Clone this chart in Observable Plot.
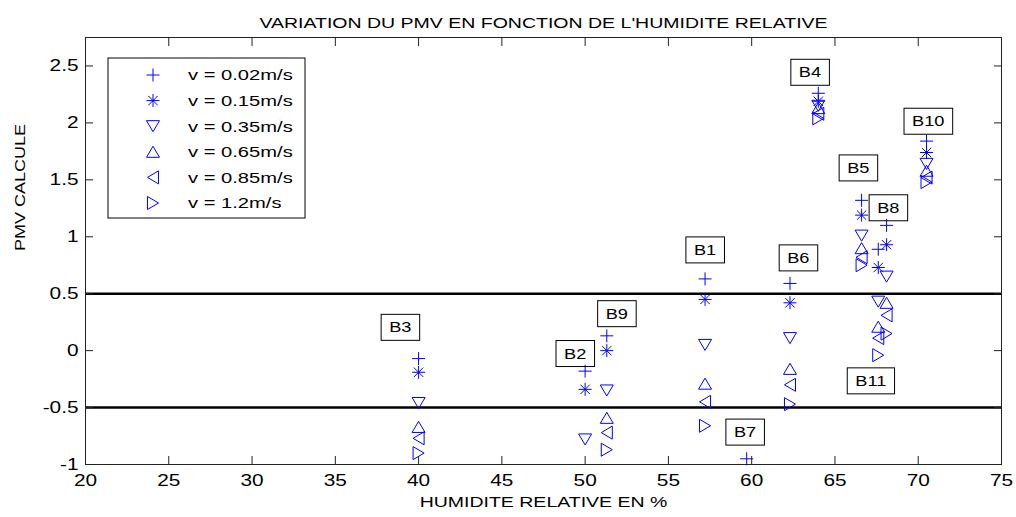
<!DOCTYPE html>
<html><head><meta charset="utf-8">
<script src="https://cdn.jsdelivr.net/npm/d3@7"></script>
<script src="https://cdn.jsdelivr.net/npm/@observablehq/plot@0.6"></script>
<style>
body{margin:0;background:#fff}
svg{font-family:"Liberation Sans",Arial,Helvetica,sans-serif}
</style>
</head><body><div id="chart"></div>
<script>
// ---- data ----
const buildings = ["B1","B2","B3","B4","B5","B6","B7","B8","B9","B10","B11"];
const humidity  = [57.2, 50.0, 40.0, 64.0, 66.6, 62.3, 59.7, 68.1, 51.3, 70.5, 67.6];
const pmv002 = [ 0.63, -0.18, -0.07, 2.26, 1.32,  0.59, -0.95, 1.10,  0.13, 1.84,  0.89];
const pmv015 = [ 0.45, -0.34, -0.19, 2.19, 1.19,  0.42,  null, 0.93,  0.00, 1.74,  0.73];
const pmv035 = [ 0.05, -0.78, -0.46, 2.15, 1.01,  0.11,  null, 0.65, -0.35, 1.64,  0.43];
const pmv065 = [-0.29,  null, -0.67, 2.13, 0.90, -0.16,  null, 0.42, -0.59, 1.58,  0.21];
const pmv085 = [-0.45,  null, -0.77, 2.08, 0.82, -0.30,  null, 0.31, -0.72, 1.52,  0.11];
const pmv120 = [-0.66,  null, -0.90, 2.04, 0.75, -0.47,  null, 0.15, -0.87, 1.48, -0.04];
const speedLabels = ["v = 0.02m/s","v = 0.15m/s","v = 0.35m/s","v = 0.65m/s","v = 0.85m/s","v = 1.2m/s"];
// annotation anchor positions (data units) for the boxed building labels
const labelX = [57.2, 49.4, 38.9, 63.5, 66.4, 62.8, 59.6, 68.2, 51.9, 70.6, 67.15];
const labelY = [0.88, -0.03, 0.20, 2.44, 1.60, 0.81, -0.72, 1.25, 0.32, 2.01, -0.27];
const comfortLimits = [0.5, -0.5];
const xTicks = [20,25,30,35,40,45,50,55,60,65,70,75];
const yTicks = [-1,-0.5,0,0.5,1,1.5,2,2.5];
const title = "VARIATION DU PMV EN FONCTION DE L'HUMIDITE RELATIVE";
const xLabel = "HUMIDITE RELATIVE EN %";
const yLabel = "PMV CALCULE";

// ---- MATLAB-like marker shapes ----
function sym(f){return {draw(c,size){const r=Math.sqrt(size/Math.PI); f(c,r);}};}
const symbols = [
  sym((c,r)=>{c.moveTo(-r,0);c.lineTo(r,0);c.moveTo(0,-r);c.lineTo(0,r);}),
  sym((c,r)=>{const d=r*0.72;c.moveTo(-r,0);c.lineTo(r,0);c.moveTo(0,-r);c.lineTo(0,r);
               c.moveTo(-d,-d);c.lineTo(d,d);c.moveTo(-d,d);c.lineTo(d,-d);}),
  sym((c,r)=>{const h=r*0.85;c.moveTo(-r,-h);c.lineTo(r,-h);c.lineTo(0,h);c.closePath();}),
  sym((c,r)=>{const h=r*0.85;c.moveTo(-r,h);c.lineTo(r,h);c.lineTo(0,-h);c.closePath();}),
  sym((c,r)=>{const h=r*0.85;c.moveTo(-h,0);c.lineTo(h,-r);c.lineTo(h,r);c.closePath();}),
  sym((c,r)=>{const h=r*0.85;c.moveTo(h,0);c.lineTo(-h,-r);c.lineTo(-h,r);c.closePath();})
];
const seriesValues = [pmv002, pmv015, pmv035, pmv065, pmv085, pmv120];
const BLUE = "#0000ff";
const R = 6.5;
const TK = 8; // inward tick length (px)

const dotMarks = seriesValues.map((vals, si) => {
  const data = buildings.map((b,i)=>({b, x: humidity[i], y: vals[i]})).filter(d=>d.y!=null);
  return Plot.dot(data, {x:"x", y:"y", symbol: symbols[si], r: R, stroke: BLUE, fill: "none", strokeWidth: 1});
});
const labelData = buildings.map((b,i)=>({b, x: labelX[i], y: labelY[i]}));
const noText = () => "";

const chart = Plot.plot({
  width: 1016, height: 517,
  marginLeft: 85, marginRight: 15, marginTop: 37, marginBottom: 53,
  x: {domain: [20, 75]},
  y: {domain: [-1, 2.75]},
  style: {fontSize: "16px", color: "black", background: "white", overflow: "visible"},
  marks: [
    Plot.ruleY(comfortLimits, {stroke: "black", strokeWidth: 2.6}),
    // inward ticks on all four sides
    Plot.axisX({anchor: "bottom", ticks: xTicks, tickSize: TK, dy: -TK, tickFormat: noText, label: null, stroke: "#222"}),
    Plot.axisX({anchor: "top", ticks: xTicks, tickSize: TK, dy: TK, tickFormat: noText, label: null, stroke: "#222"}),
    Plot.axisY({anchor: "left", ticks: yTicks, tickSize: TK, dx: TK, tickFormat: noText, label: null, stroke: "#222"}),
    Plot.axisY({anchor: "right", ticks: yTicks, tickSize: TK, dx: -TK, tickFormat: noText, label: null, stroke: "#222"}),
    // tick labels
    Plot.axisX({anchor: "bottom", ticks: xTicks, tickSize: 0, tickPadding: 10, tickFormat: d => String(d), label: null}),
    Plot.axisY({anchor: "left", ticks: yTicks, tickSize: 0, tickPadding: 7, tickFormat: d => String(d), label: null}),
    Plot.frame({stroke: "#222", strokeWidth: 1}),
    ...dotMarks,
    Plot.text(labelData, {x: "x", y: "y", text: "b", fontSize: 14, fill: "black"}),
    Plot.text([title], {text: d => d, frameAnchor: "top", dy: -20, fontSize: 15, fill: "black"}),
    Plot.text([xLabel], {text: d => d, frameAnchor: "bottom", dy: 42, fontSize: 15, fill: "black"}),
    Plot.text([yLabel], {text: d => d, frameAnchor: "left", dx: -65, rotate: -90, fontSize: 15, fill: "black"})
  ]
});
document.getElementById("chart").append(chart);

// ---- legend (drawn inside the plot frame like MATLAB) ----
const svg = d3.select(chart);
const lg = svg.append("g").attr("aria-label", "legend").attr("text-anchor", "start");
lg.append("rect").attr("x", 108).attr("y", 58).attr("width", 197).attr("height", 160)
  .attr("fill", "white").attr("stroke", "black").attr("stroke-width", 1);
speedLabels.forEach((lab, i) => {
  const cy = 75 + i * 25.6;
  lg.append("path").attr("transform", `translate(153,${cy})`)
    .attr("d", d3.symbol(symbols[i], Math.PI * R * R)())
    .attr("fill", "none").attr("stroke", BLUE).attr("stroke-width", 1);
  lg.append("text").attr("x", 188).attr("y", cy).attr("dy", "0.35em")
    .attr("text-anchor", "start").attr("font-size", 15.5).attr("fill", "black").text(lab);
});

// ---- widen glyphs like the reference rendering ----
const STRETCH = 1.3;
chart.querySelectorAll("text").forEach(t => {
  const L = t.getComputedTextLength();
  const k = t.textContent === yLabel ? 1.2 : STRETCH;
  if (L > 0) { t.setAttribute("textLength", L * k); t.setAttribute("lengthAdjust", "spacingAndGlyphs"); }
});

// ---- boxes around building labels ----
const bset = new Set(buildings);
chart.querySelectorAll("text").forEach(t => {
  if (!bset.has(t.textContent)) return;
  const bb = t.getBBox();
  const padX = 8, padY = 6;
  const rect = document.createElementNS("http://www.w3.org/2000/svg", "rect");
  rect.setAttribute("x", bb.x - padX);
  rect.setAttribute("y", bb.y - padY + 1);
  rect.setAttribute("width", bb.width + 2 * padX);
  rect.setAttribute("height", bb.height + 2 * padY - 2);
  rect.setAttribute("fill", "none");
  rect.setAttribute("stroke", "black");
  rect.setAttribute("stroke-width", 1);
  const tr = t.getAttribute("transform");
  if (tr) rect.setAttribute("transform", tr);
  t.parentNode.insertBefore(rect, t);
});
</script>
</body></html>
